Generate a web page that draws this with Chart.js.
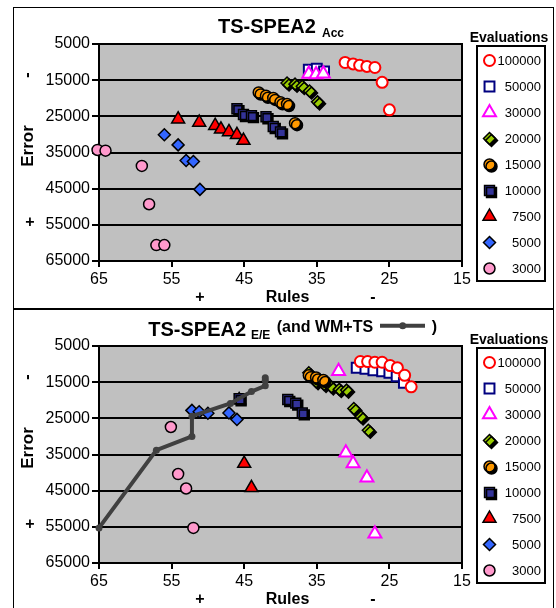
<!DOCTYPE html>
<html>
<head>
<meta charset="utf-8">
<script src="https://cdn.jsdelivr.net/npm/chart.js@4.4.1/dist/chart.umd.min.js"></script>
<style>
  body { margin: 0; background: #fff; overflow: hidden; }
  #wrap { position: relative; width: 556px; height: 608px; }
  canvas { position: absolute; left: 0; }
  #c1 { top: 0; }
  #c2 { top: 302px; }
  .panel { position: absolute; left: 13px; width: 539px; border: 1px solid #000; pointer-events: none; }
</style>
</head>
<body>
<div id="wrap">
  <canvas id="c1" width="556" height="304" style="width:556px;height:304px"></canvas>
  <canvas id="c2" width="556" height="304" style="width:556px;height:304px"></canvas>
  <div class="panel" style="top:7px;height:300px"></div>
  <div class="panel" style="top:309px;height:320px"></div>
</div>
<script>
// series names (number of evaluations)
var evalLabels = ['100000', '50000', '30000', '20000', '15000', '10000', '7500', '5000', '3000'];
var xTicks = [65, 55, 45, 35, 25, 15];
var yTicks = [5000, 15000, 25000, 35000, 45000, 55000, 65000];

// TS-SPEA2 Acc : [rules, error]
var acc100000 = [[31.1,10100],[30.0,10500],[29.1,10900],[28.1,11200],[27.0,11500],[26.0,15600],[25.0,23200]];
var acc50000  = [[36.1,12100],[35.0,11800],[34.0,12600]];
var acc30000  = [[36.1,13300],[35.1,13400],[34.1,13200]];
var acc20000  = [[39.1,15800],[38.0,16100],[37.0,16700],[36.0,18000],[34.9,21000]];
var acc15000  = [[43.0,18400],[42.0,19300],[41.0,19900],[40.0,21100],[39.1,21600],[38.0,26900]];
var acc10000  = [[46.0,22900],[45.1,24500],[44.0,24800],[42.0,25100],[41.0,27800],[40.0,29300]];
var acc7500   = [[54.1,25800],[51.2,26700],[49.0,27600],[48.2,28600],[47.1,29300],[46.0,30100],[45.1,31700]];
var acc5000   = [[56.0,30100],[54.1,32900],[53.0,37200],[52.0,37500],[51.1,45200]];
var acc3000   = [[65.2,34300],[64.1,34500],[59.1,38700],[58.1,49300],[57.1,60600],[56.0,60600]];

// TS-SPEA2 E/E : [rules, error]
var ee100000 = [[29.0,9300],[28.0,9300],[27.0,9500],[26.0,9500],[24.9,10400],[23.9,11000],[22.9,13100],[22.0,16300]];
var ee50000  = [[29.5,11000],[28.3,11300],[27.2,11700],[26.0,12000],[25.0,12400],[24.0,13400],[23.0,15200]];
var ee30000  = [[32.0,12000],[31.0,34500],[30.0,37500],[28.1,41400],[27.0,56900]];
var ee20000  = [[36.1,12400],[35.1,14900],[34.0,15600],[33.0,16300],[31.9,17000],[30.9,17200],[29.9,22300],[28.9,24600],[27.9,28300]];
var ee15000  = [[36.1,13100],[35.1,13700],[34.1,14400]];
var ee10000  = [[45.7,19600],[39.0,19800],[37.9,20800],[37.0,23500]];
var ee7500   = [[45.7,19900],[45.0,37500],[44.0,44200]];
var ee5000   = [[52.2,22800],[51.2,23200],[50.0,23600],[47.1,23500],[46.0,25300]];
var ee3000   = [[55.1,27400],[54.1,40400],[53.0,44400],[52.0,55300]];
// WM+TS line
var wmts     = [[65,55300],[57.1,33800],[52.2,30000],[52.2,24400],[46.9,20900],[44.0,17600],[42.1,16000],[42.1,14500],[42.1,13800]];

var FONT = "'Liberation Sans', Arial, sans-serif";
Chart.defaults.font.family = FONT;

// marker look for each series, same order as evalLabels
var styles = [
  { pointStyle: 'circle',   pointRadius: 5.5, pointBackgroundColor: '#ffffff', pointBorderColor: '#ff0000', pointBorderWidth: 2,   order: 0 },
  { pointStyle: 'rect',     pointRadius: 7,   pointBackgroundColor: '#ffffff', pointBorderColor: '#000080', pointBorderWidth: 2,   order: 2 },
  { pointStyle: 'triangle', pointRadius: 7.5, pointBackgroundColor: '#ffffff', pointBorderColor: '#ff00ff', pointBorderWidth: 2,   order: 1 },
  { pointStyle: 'rectRot',  pointRadius: 6,   pointBackgroundColor: '#99cc00', pointBorderColor: '#000000', pointBorderWidth: 1.5, order: 4, shadow: true },
  { pointStyle: 'circle',   pointRadius: 5.5, pointBackgroundColor: '#ff9900', pointBorderColor: '#000000', pointBorderWidth: 1.5, order: 3, shadow: true },
  { pointStyle: 'rect',     pointRadius: 7,   pointBackgroundColor: '#333399', pointBorderColor: '#000000', pointBorderWidth: 1.5, order: 5, shadow: true },
  { pointStyle: 'triangle', pointRadius: 7.5, pointBackgroundColor: '#ff0000', pointBorderColor: '#000000', pointBorderWidth: 1.5, order: 6 },
  { pointStyle: 'rectRot',  pointRadius: 6,   pointBackgroundColor: '#3366ff', pointBorderColor: '#000000', pointBorderWidth: 1.5, order: 7 },
  { pointStyle: 'circle',   pointRadius: 5.5, pointBackgroundColor: '#ff99cc', pointBorderColor: '#000000', pointBorderWidth: 1.5, order: 8 }
];
var lineStyle = { showLine: true, borderColor: '#404040', borderWidth: 4, pointStyle: 'circle', pointRadius: 3.5,
                  pointBackgroundColor: '#404040', pointBorderColor: '#404040', pointBorderWidth: 0, order: -1 };

function toXY(arr) {
  return arr.map(function(p) { return { x: p[0], y: p[1] }; });
}

function makeDatasets(seriesList) {
  return seriesList.map(function(arr, i) {
    return Object.assign({ label: evalLabels[i], data: toXY(arr), showLine: false, clip: false }, styles[i]);
  });
}

function markerPath(ctx, style, r, x, y) {
  ctx.beginPath();
  if (style === 'circle') {
    ctx.arc(x, y, r, 0, Math.PI * 2);
  } else if (style === 'rect') {
    var s = r * Math.SQRT1_2;
    ctx.rect(x - s, y - s, 2 * s, 2 * s);
  } else if (style === 'rectRot') {
    ctx.moveTo(x, y - r); ctx.lineTo(x + r, y); ctx.lineTo(x, y + r); ctx.lineTo(x - r, y);
    ctx.closePath();
  } else if (style === 'triangle') {
    ctx.moveTo(x, y - r);
    ctx.lineTo(x + r * 0.866, y + r * 0.5);
    ctx.lineTo(x - r * 0.866, y + r * 0.5);
    ctx.closePath();
  }
}

function drawMarker(ctx, st, x, y) {
  ctx.save();
  if (st.shadow) {
    ctx.shadowColor = '#000'; ctx.shadowOffsetX = 2; ctx.shadowOffsetY = 2; ctx.shadowBlur = 0;
  }
  markerPath(ctx, st.pointStyle, st.pointRadius, x, y);
  ctx.fillStyle = st.pointBackgroundColor;
  ctx.strokeStyle = st.pointBorderColor;
  ctx.lineWidth = st.pointBorderWidth;
  ctx.fill();
  ctx.stroke();
  ctx.restore();
}

// background, plot border, shadows, axis titles and legend
function decoPlugin(drawTitle) {
  return {
    id: 'deco',
    beforeDraw: function(chart) {
      var a = chart.chartArea, ctx = chart.ctx;
      ctx.save();
      ctx.fillStyle = '#c0c0c0';
      ctx.fillRect(a.left, a.top, a.right - a.left, a.bottom - a.top);
      ctx.restore();
    },
    beforeDatasetsDraw: function(chart) {
      var a = chart.chartArea, ctx = chart.ctx;
      ctx.save();
      ctx.strokeStyle = '#000';
      ctx.lineWidth = 2;
      ctx.strokeRect(a.left, a.top, a.right - a.left, a.bottom - a.top);
      ctx.restore();
    },
    beforeDatasetDraw: function(chart, args) {
      var ds = chart.data.datasets[args.index];
      if (ds.shadow) {
        var ctx = chart.ctx;
        ctx.save();
        ctx.shadowColor = '#000'; ctx.shadowOffsetX = 2; ctx.shadowOffsetY = 2; ctx.shadowBlur = 0;
      }
    },
    afterDatasetDraw: function(chart, args) {
      var ds = chart.data.datasets[args.index];
      if (ds.shadow) chart.ctx.restore();
    },
    afterDraw: function(chart) {
      var a = chart.chartArea, ctx = chart.ctx;
      ctx.save();
      ctx.fillStyle = '#000';

      // y axis title: "+  Error  -" rotated
      ctx.save();
      ctx.translate(a.left - 71, 0);
      ctx.rotate(-Math.PI / 2);
      ctx.textAlign = 'center';
      ctx.textBaseline = 'middle';
      ctx.font = 'bold 17px ' + FONT;
      ctx.fillText('Error', -(a.top + 102), 0);
      ctx.font = 'bold 16px ' + FONT;
      ctx.fillText('-', -(a.top + 31), 0);
      ctx.restore();
      ctx.font = 'bold 16px ' + FONT;
      ctx.textAlign = 'center';
      ctx.textBaseline = 'middle';
      ctx.fillText('+', a.left - 69, a.top + 179);

      // x axis title
      ctx.textBaseline = 'alphabetic';
      ctx.fillText('+', a.left + 101, a.bottom + 41);
      ctx.fillText('Rules', a.left + 188.5, a.bottom + 41);
      ctx.fillText('-', a.left + 274, a.bottom + 41);

      // legend
      ctx.font = 'bold 14px ' + FONT;
      ctx.fillText('Evaluations', 509, 41.5);
      ctx.lineWidth = 2;
      ctx.strokeStyle = '#000';
      ctx.strokeRect(477, 46, 68, 235);
      ctx.font = '13px ' + FONT;
      ctx.textAlign = 'right';
      ctx.textBaseline = 'middle';
      for (var i = 0; i < evalLabels.length; i++) {
        var yy = 60.5 + i * 26;
        drawMarker(ctx, styles[i], 489.5, yy);
        ctx.fillStyle = '#000';
        ctx.fillText(evalLabels[i], 541, yy + 0.5);
      }
      drawTitle(ctx);
      ctx.restore();
    }
  };
}

function makeOptions() {
  var tickFont = { family: FONT, size: 16 };
  return {
    responsive: false,
    animation: false,
    events: [],
    layout: { padding: { left: 0, top: 44, right: 94, bottom: 0 } },
    plugins: { legend: { display: false }, tooltip: { enabled: false }, title: { display: false } },
    scales: {
      x: {
        type: 'linear', reverse: true, min: xTicks[xTicks.length - 1], max: xTicks[0],
        afterFit: function(s) { s.height = 43; },
        afterBuildTicks: function(s) { s.ticks = xTicks.map(function(v) { return { value: v }; }); },
        ticks: { color: '#000', font: tickFont, padding: 3, maxRotation: 0, autoSkip: false,
                 callback: function(v) { return String(v); } },
        grid: { drawOnChartArea: false, color: '#000', lineWidth: 2, tickLength: 6 },
        border: { color: '#000', width: 2 }
      },
      y: {
        type: 'linear', reverse: true, min: yTicks[0], max: yTicks[yTicks.length - 1],
        afterFit: function(s) { s.width = 99; },
        afterBuildTicks: function(s) { s.ticks = yTicks.map(function(v) { return { value: v }; }); },
        ticks: { color: '#000', font: tickFont, padding: 2, autoSkip: false,
                 callback: function(v) { return String(v); } },
        grid: { color: '#000', lineWidth: 2, tickLength: 7 },
        border: { color: '#000', width: 2 }
      }
    }
  };
}

// top chart
new Chart(document.getElementById('c1'), {
  type: 'scatter',
  data: { datasets: makeDatasets([acc100000, acc50000, acc30000, acc20000, acc15000, acc10000, acc7500, acc5000, acc3000]) },
  options: makeOptions(),
  plugins: [decoPlugin(function(ctx) {
    ctx.textAlign = 'left';
    ctx.textBaseline = 'alphabetic';
    ctx.fillStyle = '#000';
    ctx.font = 'bold 20px ' + FONT;
    ctx.fillText('TS-SPEA2', 218, 33.3);
    ctx.font = 'bold 12px ' + FONT;
    ctx.fillText('Acc', 322, 36.7);
  })]
});

// bottom chart
var eeSets = makeDatasets([ee100000, ee50000, ee30000, ee20000, ee15000, ee10000, ee7500, ee5000, ee3000]);
eeSets.push(Object.assign({ label: 'WM+TS', data: toXY(wmts), clip: false, tension: 0 }, lineStyle));
new Chart(document.getElementById('c2'), {
  type: 'scatter',
  data: { datasets: eeSets },
  options: makeOptions(),
  plugins: [decoPlugin(function(ctx) {
    ctx.textAlign = 'left';
    ctx.textBaseline = 'alphabetic';
    ctx.fillStyle = '#000';
    ctx.font = 'bold 20px ' + FONT;
    ctx.fillText('TS-SPEA2', 148.3, 33.7);
    ctx.font = 'bold 12px ' + FONT;
    ctx.fillText('E/E', 251, 36.5);
    ctx.font = 'bold 16px ' + FONT;
    ctx.fillText('(and WM+TS', 276.7, 29.7);
    ctx.fillText(')', 431.7, 29.7);
    // line sample
    ctx.strokeStyle = lineStyle.borderColor;
    ctx.lineWidth = lineStyle.borderWidth;
    ctx.beginPath();
    ctx.moveTo(380, 23.7);
    ctx.lineTo(425, 23.7);
    ctx.stroke();
    ctx.fillStyle = lineStyle.pointBackgroundColor;
    ctx.beginPath();
    ctx.arc(402.7, 23.7, 3.5, 0, Math.PI * 2);
    ctx.fill();
  })]
});
</script>
</body>
</html>
